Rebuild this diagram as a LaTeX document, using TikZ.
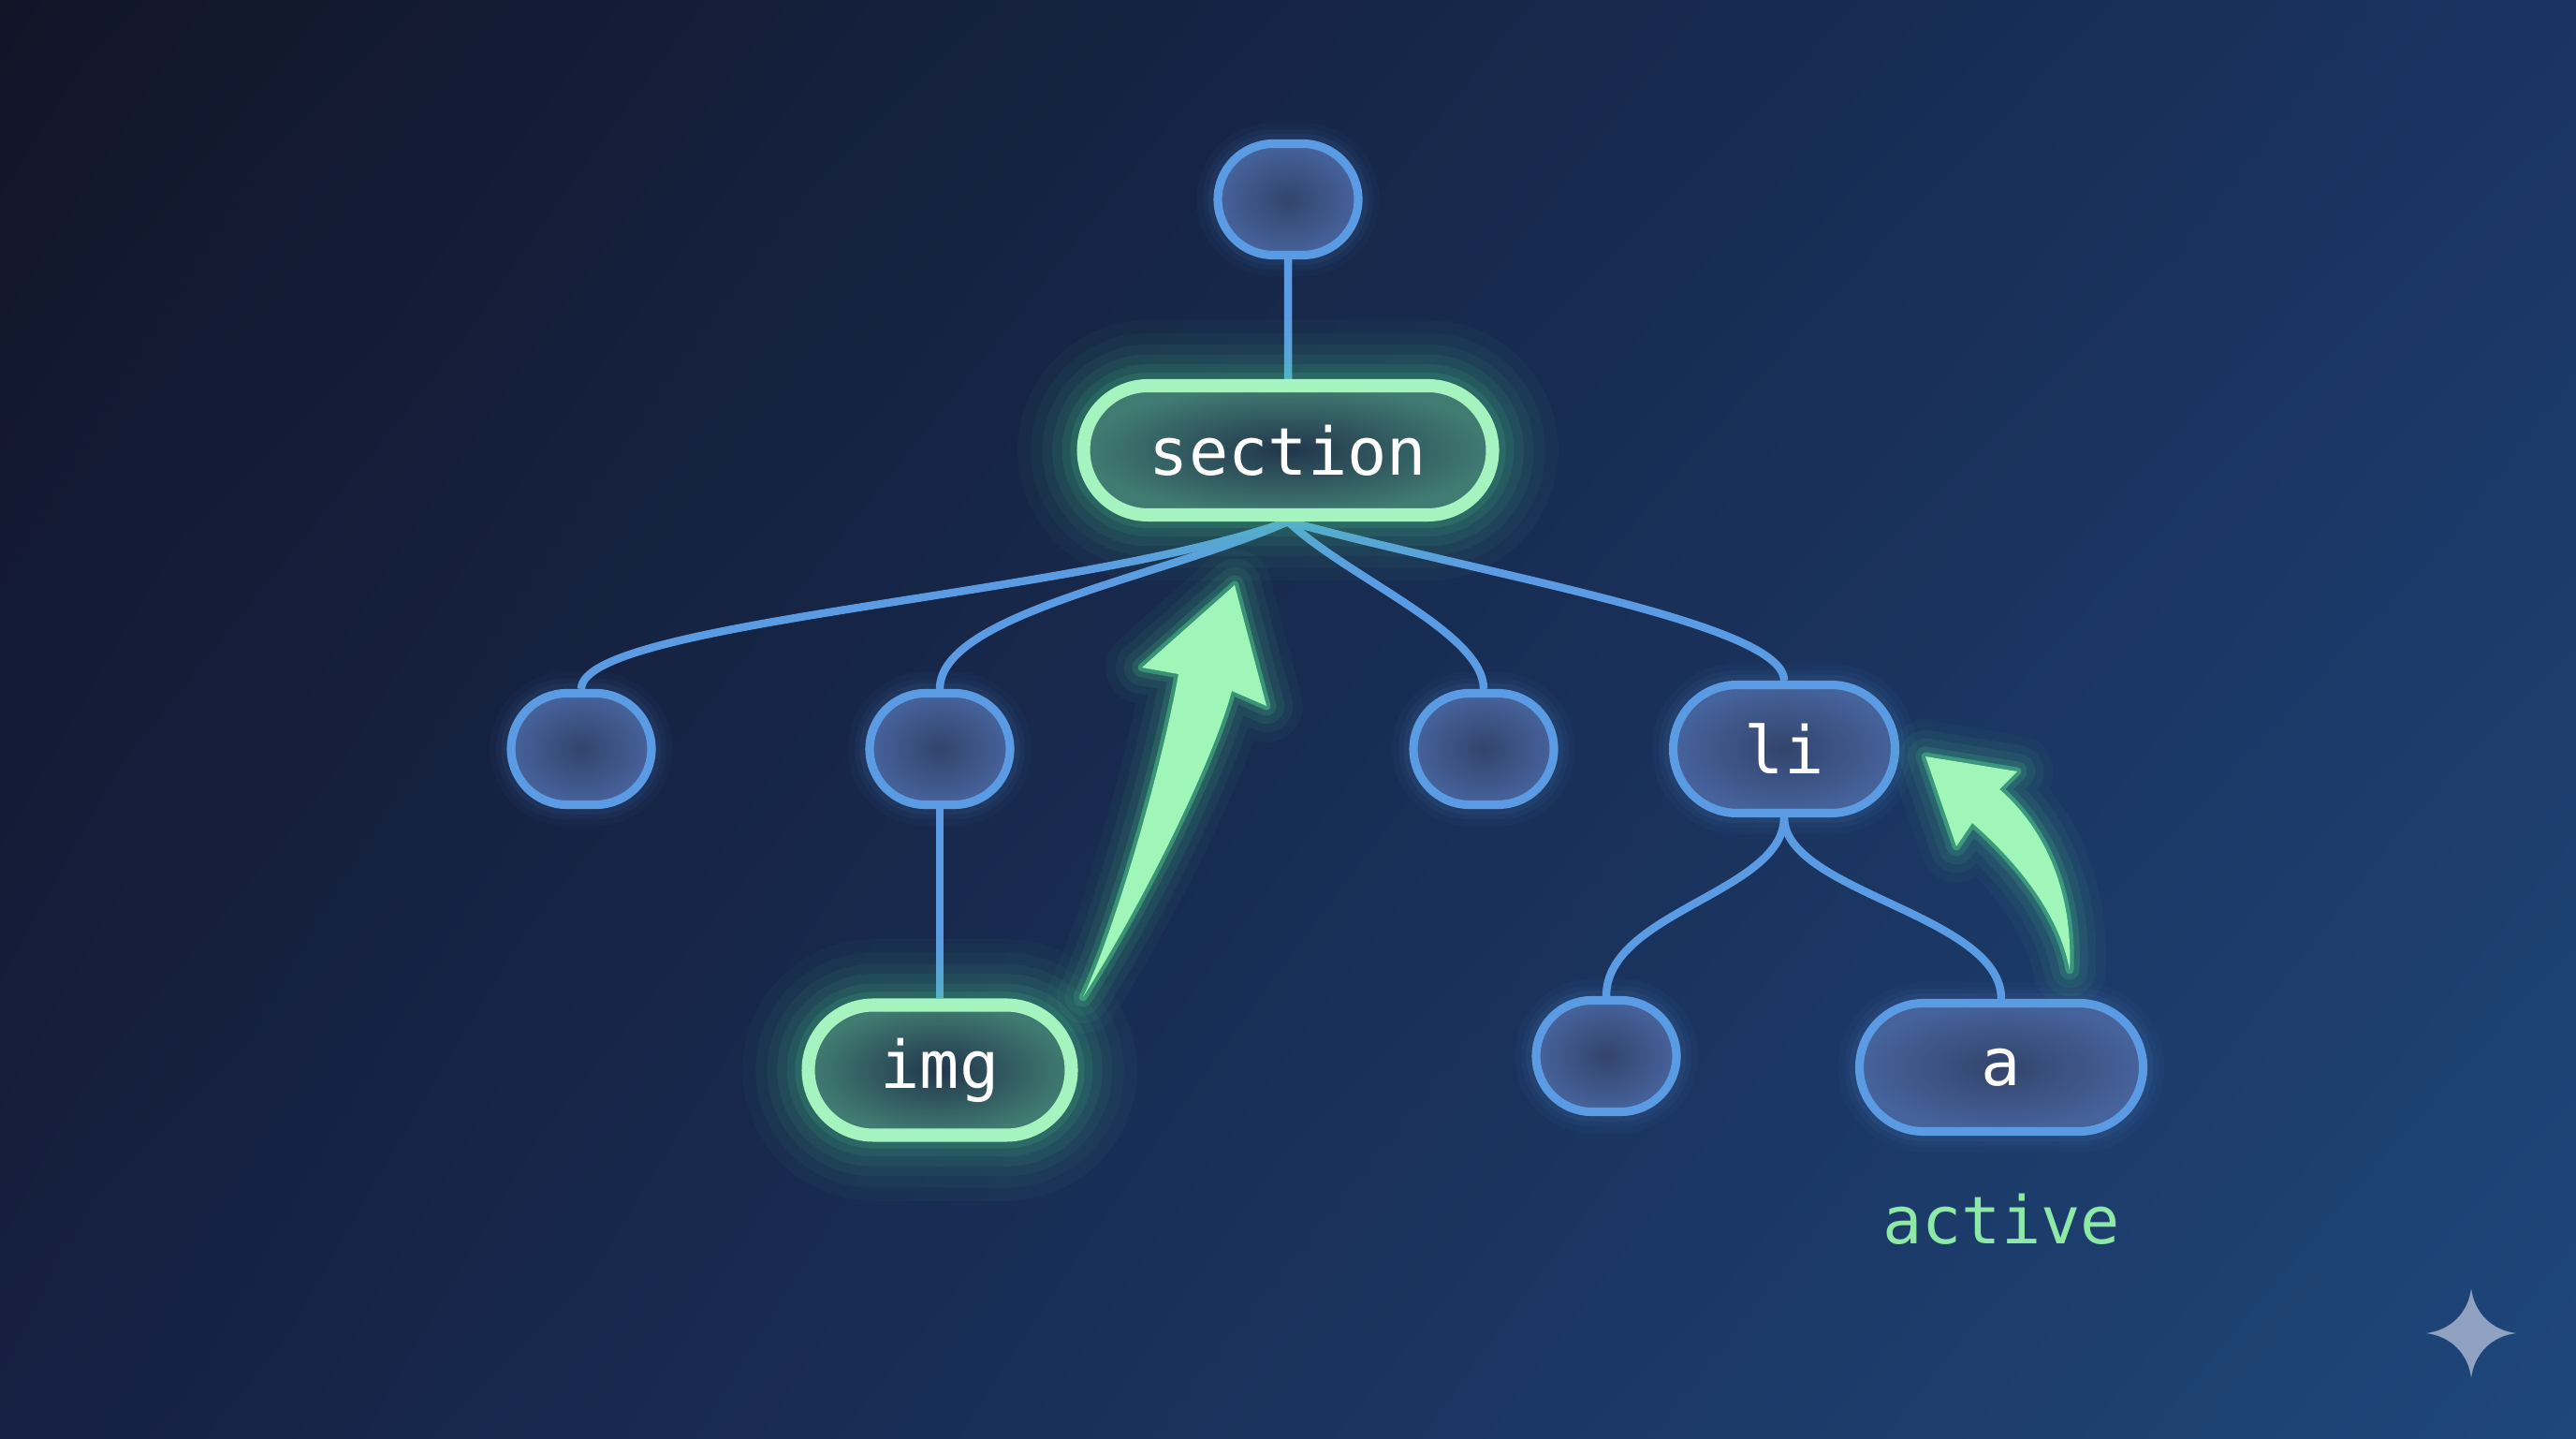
\documentclass[tikz,border=0pt]{standalone}
\usepackage{fontspec}
\setmonofont{DejaVu Sans Mono}
\usetikzlibrary{shapes.misc,shadings,positioning}
\pgfdeclarelayer{bg}
\pgfdeclarelayer{edges}
\pgfsetlayers{bg,edges,main}
\definecolor{bgUL}{HTML}{111528}
\definecolor{bgUR}{HTML}{1A3462}
\definecolor{bgLL}{HTML}{162042}
\definecolor{bgLR}{HTML}{1F477B}
\definecolor{nodeblue}{HTML}{5B9BE3}
\definecolor{blueIn}{HTML}{33446C}
\definecolor{blueOut}{HTML}{46639C}
\definecolor{hotgreen}{HTML}{A5F3BF}
\definecolor{greenIn}{HTML}{22364D}
\definecolor{greenOut}{HTML}{417C72}
\definecolor{glowgreen}{HTML}{55E394}
\definecolor{arrowgreen}{HTML}{A0F6B8}
\definecolor{activegreen}{HTML}{8EE8A6}
\definecolor{starcol}{HTML}{8FA2C2}

\begin{document}
\begin{tikzpicture}[
  tagfont/.style={font=\ttfamily\fontsize{20}{24}\selectfont},
  blank/.style={rounded rectangle,inner sep=0pt,minimum width=1.50cm,minimum height=1.19cm,
    draw=nodeblue,line width=2.6pt,inner color=blueIn,outer color=blueOut,
    preaction={draw=nodeblue,line width=13pt,draw opacity=.04},
    preaction={draw=nodeblue,line width=9pt,draw opacity=.05},
    preaction={draw=nodeblue,line width=6pt,draw opacity=.07}},
  tag/.style={blank,tagfont,text=white},
  hot/.style={rounded rectangle,inner sep=0pt,tagfont,text=white,
    draw=hotgreen,line width=4pt,inner color=greenIn,outer color=greenOut,
    preaction={draw=glowgreen,line width=40pt,draw opacity=.035},
    preaction={draw=glowgreen,line width=32pt,draw opacity=.045},
    preaction={draw=glowgreen,line width=25pt,draw opacity=.055},
    preaction={draw=glowgreen,line width=19pt,draw opacity=.07},
    preaction={draw=glowgreen,line width=13pt,draw opacity=.09},
    preaction={draw=glowgreen,line width=8pt,draw opacity=.12}},
  link/.style={draw=nodeblue,line width=2.4pt},
  hop/.style={fill=arrowgreen,
    preaction={draw=glowgreen,line join=round,line width=22pt,draw opacity=.04},
    preaction={draw=glowgreen,line join=round,line width=16pt,draw opacity=.06},
    preaction={draw=glowgreen,line join=round,line width=11pt,draw opacity=.08},
    preaction={draw=glowgreen,line join=round,line width=6pt,draw opacity=.14},
    preaction={draw=glowgreen,line join=round,line width=2.5pt,draw opacity=.4}}
]
\useasboundingbox (0,0) rectangle (27.52,15.36);
\begin{pgfonlayer}{bg}
\shade[upper left=bgUL,upper right=bgUR,lower left=bgLL,lower right=bgLR] (0,0) rectangle (27.52,15.36);
\end{pgfonlayer}

% tree
\node[blank] (top) at (13.76,13.23) {};
\node[hot,minimum width=4.37cm,minimum height=1.38cm] (section) at (13.76,10.55) {section};
\node[blank] (n1) at (6.21,7.36) {};
\node[blank] (n2) at (10.04,7.36) {};
\node[blank] (n3) at (15.85,7.36) {};
\node[tag,minimum width=2.37cm,minimum height=1.37cm] (li) at (19.06,7.36) {li};
\node[hot,minimum width=2.81cm,minimum height=1.39cm] (img) at (10.04,3.93) {img};
\node[blank] (n4) at (17.16,4.08) {};
\node[tag,minimum width=3.03cm,minimum height=1.37cm] (a) at (21.38,3.96) {a};
\node[tagfont,text=activegreen,inner sep=0pt,anchor=base] (act) at (21.38,2.07) {active};

\begin{pgfonlayer}{edges}
\draw[link] (top) -- (section);
\draw[link] (section.south) .. controls +(-2.26,-0.8) and +(0,0.72) .. (n1.north);
\draw[link] (section.south) .. controls +(-1.36,-0.6) and +(0,0.8) .. (n2.north);
\draw[link] (section.south) .. controls +(0.64,-0.6) and +(0,0.6) .. (n3.north);
\draw[link] (section.south) .. controls +(2.24,-0.6) and +(0,0.6) .. (li.north);
\draw[link] (n2.south) -- (img.north);
\draw[link] (li.south) .. controls +(0,-0.8) and +(0,0.9) .. (n4.north);
\draw[link] (li.south) .. controls +(0,-0.8) and +(0,0.9) .. (a.north);
\end{pgfonlayer}

% green arrows
\path[hop] (11.57,4.71) .. controls (11.9,5.4) and (12.4,7.1) .. (12.59,8.16) -- (12.20,8.23)
  -- (13.19,9.11) -- (13.53,7.82) -- (13.16,7.98) .. controls (12.95,7.2) and (12.2,5.7) .. (11.57,4.71) -- cycle;
\path[hop] (22.11,5.00) .. controls (22.15,5.9) and (21.8,6.55) .. (21.36,6.93) -- (21.55,7.12)
  -- (20.57,7.28) -- (20.90,6.32) -- (21.07,6.57) .. controls (21.55,6.15) and (22.0,5.6) .. (22.11,5.00) -- cycle;

% corner mark
\fill[starcol,shift={(26.40,1.12)}] (0,.48) .. controls (.03,.22) and (.22,.03) .. (.48,0)
  .. controls (.22,-.03) and (.03,-.22) .. (0,-.48) .. controls (-.03,-.22) and (-.22,-.03) .. (-.48,0)
  .. controls (-.22,.03) and (-.03,.22) .. (0,.48) -- cycle;
\end{tikzpicture}
\end{document}
